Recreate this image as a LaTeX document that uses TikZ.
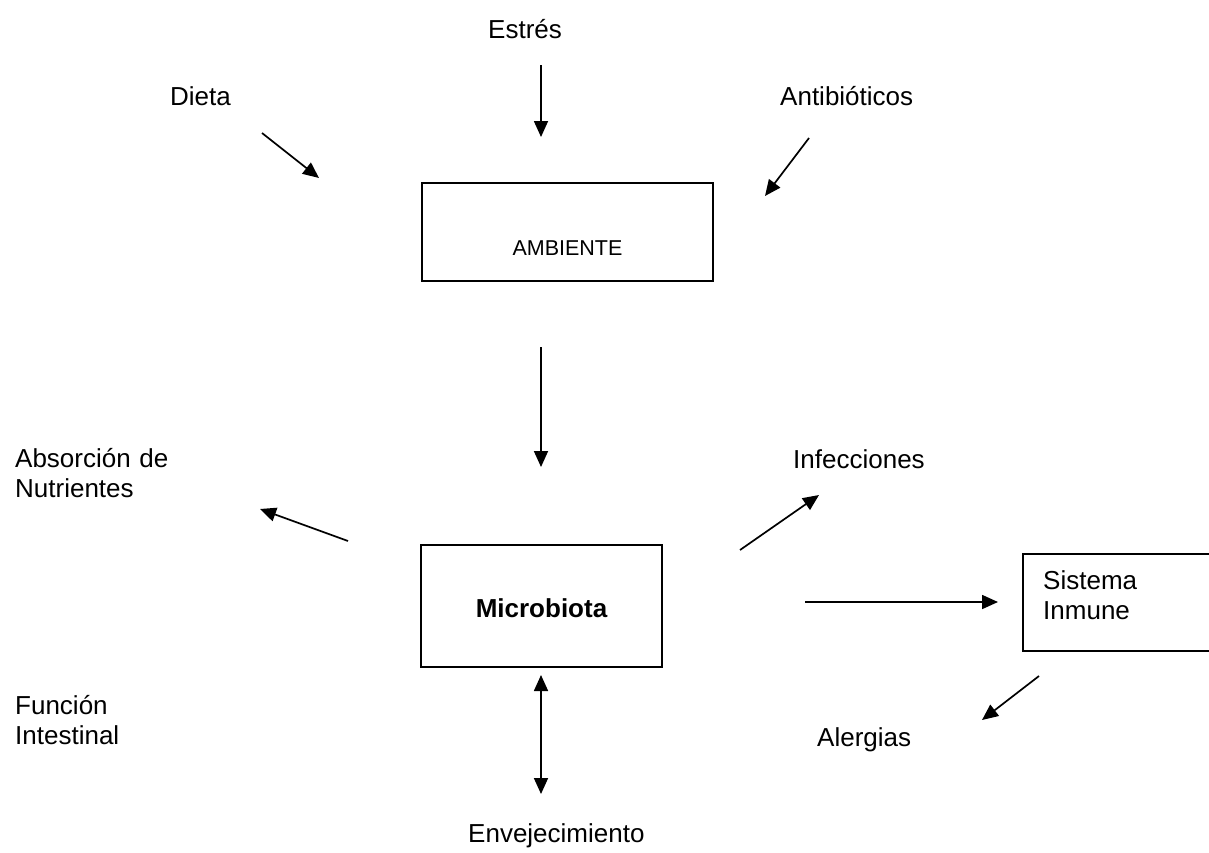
\documentclass[tikz,border=0pt]{standalone}
\usepackage{fontspec}
\setmainfont{Liberation Sans}
\usetikzlibrary{arrows.meta}

\tikzset{
  lbl/.style={anchor=base west, inner sep=0pt, font=\fontsize{26}{30}\selectfont},
  lbltwo/.style={lbl, text width=200pt, align=left},
  box/.style={draw, line width=1.7pt, inner sep=0pt},
  flow/.style={line width=1.7pt, -{Triangle[length=16pt,width=14pt]}},
}

\begin{document}
\begin{tikzpicture}[x=1pt, y=-1pt]
\useasboundingbox (0,0) rectangle (1209,852);
\clip (0,0) rectangle (1209,852);

% Factors acting on the environment
\node[lbl] (estres) at (488,38) {Estrés};
\node[lbl] (dieta) at (170,105) {Dieta};
\node[lbl] (antibio) at (780,105) {Antibióticos};

% Boxes
\node[box, minimum width=291pt, minimum height=98pt, text height=46pt, text depth=0pt,
  font=\fontsize{21.5}{26}\selectfont] (ambiente) at (567.5,232) {AMBIENTE};
\node[box, minimum width=241pt, minimum height=122pt, text height=22pt, text depth=0pt,
  font=\fontsize{26}{30}\selectfont\bfseries] (micro) at (541.5,606) {Microbiota};
\node[box, anchor=north west, minimum width=200pt, minimum height=97pt] (sistema) at (1022,553) {};
\node[lbltwo] (sistematxt) at (1043,589) {Sistema\\Inmune};

% Effects
\node[lbltwo] (absorcion) at (15,467) {Absorción de\\Nutrientes};
\node[lbltwo] (funcion) at (15,714) {Función\\Intestinal};
\node[lbl] (infec) at (793,468) {Infecciones};
\node[lbl] (alergias) at (817,746) {Alergias};
\node[lbl] (envejec) at (468,842) {Envejecimiento};

% Arrow ends
\coordinate (estres-tail) at (541,65);   \coordinate (estres-tip) at (541,137);
\coordinate (dieta-tail) at (262,133);   \coordinate (dieta-tip) at (319,178);
\coordinate (antibio-tail) at (809,138); \coordinate (antibio-tip) at (765,196);
\coordinate (amb-tail) at (541,347);     \coordinate (amb-tip) at (541,467);
\coordinate (absor-tail) at (348,541);   \coordinate (absor-tip) at (260,509);
\coordinate (infec-tail) at (740,550);   \coordinate (infec-tip) at (819,495);
\coordinate (inmune-tail) at (805,602);  \coordinate (inmune-tip) at (998,602);
\coordinate (alerg-tail) at (1039,676);  \coordinate (alerg-tip) at (982,720);
\coordinate (envej-top) at (541,675);    \coordinate (envej-bot) at (541,794);

\foreach \n in {estres,dieta,antibio,amb,absor,infec,inmune,alerg}
  \draw[flow] (\n-tail) -- (\n-tip);
\draw[flow, {Triangle[length=16pt,width=14pt]}-{Triangle[length=16pt,width=14pt]}] (envej-top) -- (envej-bot);

\end{tikzpicture}
\end{document}
